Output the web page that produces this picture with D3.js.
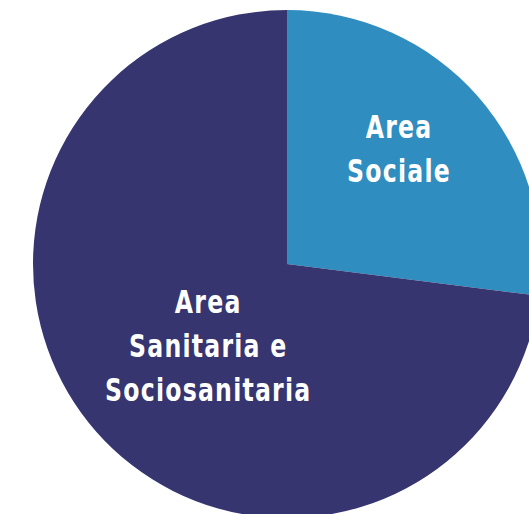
<!DOCTYPE html>
<html>
<head>
<meta charset="utf-8">
<script src="https://cdn.jsdelivr.net/npm/d3@7"></script>
<style>
  body { margin: 0; background: #fff; }
  svg { display: block; }
  .label { fill: #fff; font-family: "Liberation Sans Narrow", "DejaVu Sans Condensed", sans-serif; font-weight: bold; font-size: 32px; letter-spacing: 1.5px; text-anchor: middle; }
</style>
</head>
<body>
<div id="chart"></div>
<script>
// data
var categories = ["Area Sociale", "Area Sanitaria e Sociosanitaria"];
var values = [27, 73];
var labelLines = [["Area", "Sociale"], ["Area", "Sanitaria e", "Sociosanitaria"]];
var colors = ["#2f8dc0", "#36356f"];

var width = 529, height = 514;
var cx = 287, cy = 264, radius = 254;

var svg = d3.select("#chart").append("svg")
    .attr("width", width)
    .attr("height", height);

var g = svg.append("g").attr("transform", "translate(" + cx + "," + cy + ")");

var pie = d3.pie().sort(null).value(function(d) { return d; });
var arc = d3.arc().innerRadius(0).outerRadius(radius);

var arcs = pie(values);

g.selectAll("path.slice")
  .data(arcs)
  .enter().append("path")
    .attr("class", "slice")
    .attr("d", arc)
    .style("fill", function(d, i) { return colors[i]; });

// label placement: radius along the slice and a small nudge
var labelRadius = [152, 125];
var nudge = [[-2, 0], [15, 13]];
var lineHeight = 44;
var squeeze = 0.82; // the original type is a condensed face

arcs.forEach(function(d, i) {
  var la = d3.arc().innerRadius(labelRadius[i]).outerRadius(labelRadius[i]);
  var c = la.centroid(d);
  var lines = labelLines[i];
  var x = c[0] + nudge[i][0];
  var y0 = c[1] + nudge[i][1] - (lines.length - 1) * lineHeight / 2 - 3;
  var t = g.append("g")
      .attr("transform", "translate(" + x + "," + y0 + ") scale(" + squeeze + ",1)")
    .append("text").attr("class", "label");
  lines.forEach(function(s, j) {
    t.append("tspan").attr("x", 0).attr("y", j * lineHeight).text(s);
  });
});
</script>
</body>
</html>
